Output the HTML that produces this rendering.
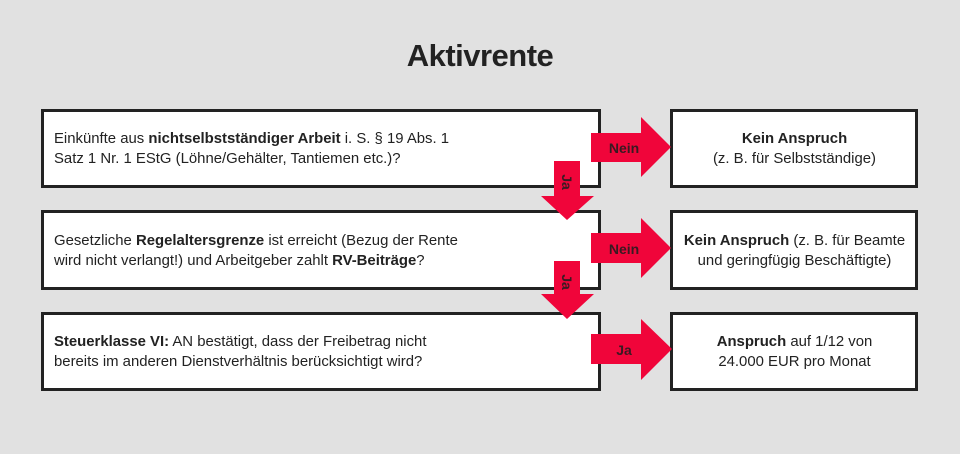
<!DOCTYPE html>
<html><head><meta charset="utf-8"><style>
body{margin:0;width:960px;height:454px;background:#e1e1e1;position:relative;overflow:hidden;font-family:"Liberation Sans",sans-serif;color:#222}
.t{position:absolute;font-size:14.9px;line-height:20px}
.c{text-align:center}
b{font-weight:bold}
</style></head><body>
<div style="position:absolute;left:0;width:960px;top:38px;text-align:center;font-size:31px;font-weight:bold;letter-spacing:-0.5px;color:#222">Aktivrente</div>
<svg width="960" height="454" style="position:absolute;left:0;top:0">
<g fill="#fff" stroke="#222" stroke-width="3">
<rect x="42.5" y="110.5" width="557" height="76"/>
<rect x="42.5" y="211.5" width="557" height="77"/>
<rect x="42.5" y="313.5" width="557" height="76"/>
<rect x="671.5" y="110.5" width="245" height="76"/>
<rect x="671.5" y="211.5" width="245" height="77"/>
<rect x="671.5" y="313.5" width="245" height="76"/>
</g>
<g fill="#f0053a">
<polygon points="591,133 641,133 641,117 671,147 641,177 641,162 591,162"/>
<polygon points="591,233 641,233 641,218 671,248 641,278 641,263 591,263"/>
<polygon points="591,334 641,334 641,319 672,349 641,380 641,364 591,364"/>
<polygon points="554,161 580,161 580,196 594,196 567,220 541,196 554,196"/>
<polygon points="554,261 580,261 580,294 594,294 567,319 541,294 554,294"/>
</g>
<g font-family="Liberation Sans,sans-serif" font-weight="bold" font-size="14" fill="#3a1a22">
<text x="624" y="153" text-anchor="middle">Nein</text>
<text x="624" y="254" text-anchor="middle">Nein</text>
<text x="624" y="355" text-anchor="middle">Ja</text>
<text transform="translate(562,182) rotate(90)" text-anchor="middle">Ja</text>
<text transform="translate(562,282) rotate(90)" text-anchor="middle">Ja</text>
</g>
</svg>
<div class="t" style="left:54px;top:129px">Einkünfte aus <b>nichtselbstständiger Arbeit</b> i. S. § 19 Abs. 1<br>Satz 1 Nr. 1 EStG (Löhne/Gehälter, Tantiemen etc.)?</div>
<div class="t" style="left:54px;top:231px">Gesetzliche <b>Regelaltersgrenze</b> ist erreicht (Bezug der Rente<br>wird nicht verlangt!) und Arbeitgeber zahlt <b>RV-Beiträge</b>?</div>
<div class="t" style="left:54px;top:332px"><b>Steuerklasse VI:</b> AN bestätigt, dass der Freibetrag nicht<br>bereits im anderen Dienstverhältnis berücksichtigt wird?</div>
<div class="t c" style="left:672px;width:245px;top:129px"><b>Kein Anspruch</b><br>(z. B. für Selbstständige)</div>
<div class="t c" style="left:672px;width:245px;top:231px"><b>Kein Anspruch</b> (z. B. für Beamte<br>und geringfügig Beschäftigte)</div>
<div class="t c" style="left:672px;width:245px;top:332px"><b>Anspruch</b> auf 1/12 von<br>24.000 EUR pro Monat</div>
</body></html>
